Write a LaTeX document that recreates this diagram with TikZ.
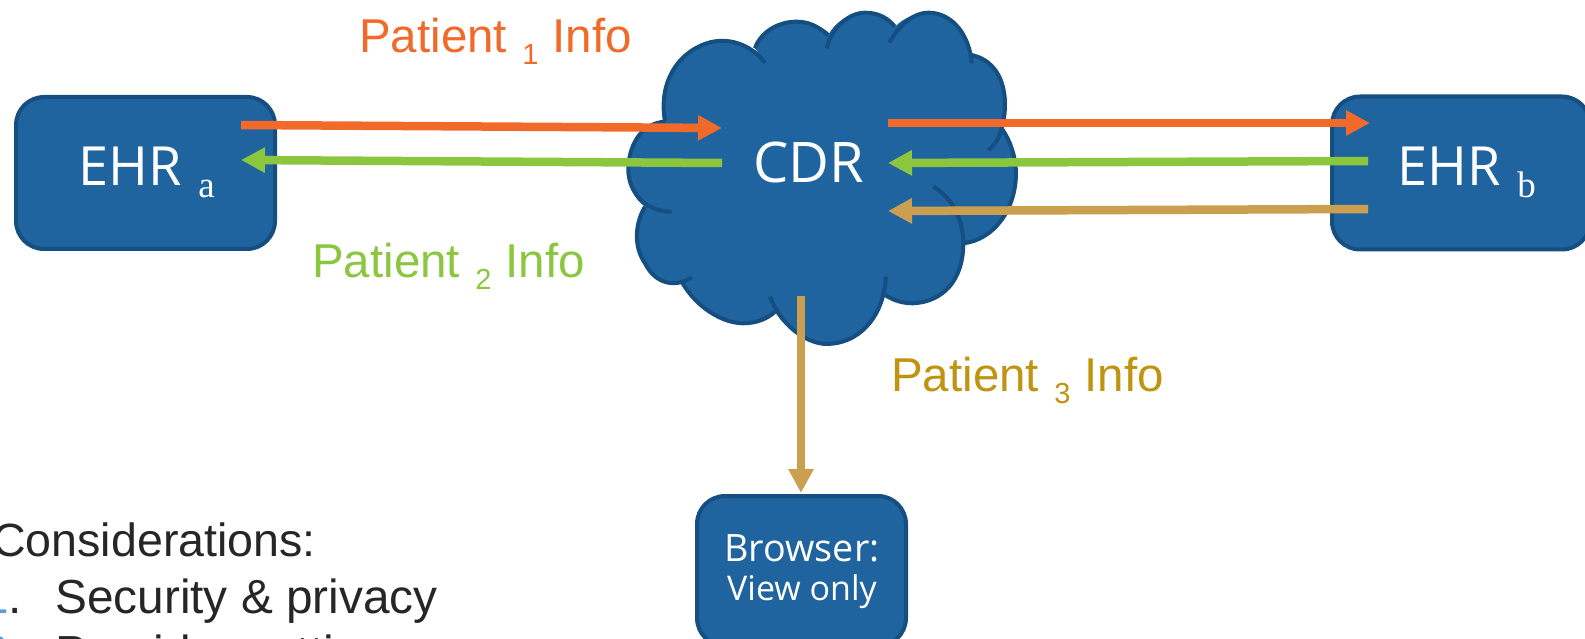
\documentclass[tikz,border=0pt]{standalone}
\usepackage{fontspec}
\setmainfont{Liberation Sans}
\newfontfamily\boxfont{Open Sans}
\newfontfamily\subfont{Liberation Serif}
\usetikzlibrary{arrows.meta}
\definecolor{boxblue}{HTML}{1F639F}
\definecolor{edgeblue}{HTML}{154E80}
\definecolor{ptorange}{HTML}{F26A2A}
\definecolor{ptgreen}{HTML}{8CC63F}
\definecolor{pttan}{HTML}{CB9F50}
\definecolor{lbtan}{HTML}{BF9410}
\definecolor{inktext}{HTML}{262626}
\definecolor{numblue}{HTML}{5B9BD5}
\tikzset{
  x=1pt,y=-1pt,
  ehrbox/.style={draw=edgeblue,line width=4pt,fill=boxblue,rounded corners=28pt,inner sep=0pt},
  flow/.style={line width=8.5pt,-{Triangle[length=24pt,width=24pt]}},
  boxtext/.style={inner sep=0pt,text=white},
  plabel/.style={inner sep=0pt,anchor=base west,font=\fontsize{47.5}{47.5}\selectfont},
  bodytext/.style={inner sep=0pt,anchor=base west,text=inktext,font=\fontsize{47.8}{47.8}\selectfont},
}
\newcommand{\subtag}[1]{\hspace{3pt}{\subfont\fontsize{37}{37}\selectfont\raisebox{-12pt}{#1}}}
\newcommand{\numtag}[1]{\hspace{2pt}{\fontsize{29}{29}\selectfont\raisebox{-12pt}{#1}}\hspace{1pt}}
\begin{document}
\begin{tikzpicture}
\useasboundingbox (0,0) rectangle (1585,639);
% cloud
\begin{scope}[x=0.3333pt,y=-0.3333pt,xshift=600pt]
\path[fill=boxblue] (495,185) .. controls (450,130) and (380,110) .. (320,130) .. controls (230,160) and (175,250) .. (195,365)
 .. controls (120,370) and (85,440) .. (85,510) .. controls (85,560) and (105,600) .. (135,620)
 .. controls (105,670) and (100,740) .. (135,790) .. controls (170,845) and (215,860) .. (245,845)
 .. controls (290,925) and (370,970) .. (430,970) .. controls (470,970) and (505,955) .. (525,935)
 .. controls (565,1000) and (630,1032) .. (680,1032) .. controls (770,1032) and (835,970) .. (855,885)
 .. controls (885,905) and (915,910) .. (940,910) .. controls (1020,905) and (1090,840) .. (1090,730)
 .. controls (1180,720) and (1248,630) .. (1248,520) .. controls (1248,470) and (1230,420) .. (1205,385)
 .. controls (1225,320) and (1225,190) .. (1115,165)
 .. controls (1095,90) and (1040,38) .. (985,38) .. controls (945,38) and (910,55) .. (885,80)
 .. controls (860,50) and (830,38) .. (795,38) .. controls (750,38) and (705,65) .. (685,105)
 .. controls (650,75) and (620,65) .. (590,65) .. controls (530,65) and (480,100) .. (465,145) -- cycle;
\begin{scope}[draw=edgeblue,line width=4pt]
\draw (495,188) .. controls (450,130) and (380,110) .. (320,130) .. controls (230,160) and (175,250) .. (195,365);
\draw (195,365) .. controls (120,370) and (85,440) .. (85,510) .. controls (85,570) and (130,635) .. (215,635);
\draw (135,620) .. controls (105,670) and (100,740) .. (135,790) .. controls (170,860) and (235,860) .. (275,832);
\draw (245,845) .. controls (290,925) and (370,970) .. (430,970) .. controls (470,970) and (505,955) .. (525,935);
\draw (510,890) .. controls (550,990) and (630,1032) .. (680,1032) .. controls (770,1032) and (850,960) .. (858,830);
\draw (855,885) .. controls (885,905) and (915,910) .. (940,910) .. controls (1030,905) and (1090,840) .. (1090,730) .. controls (1090,650) and (1050,590) .. (1000,560);
\draw (1090,730) .. controls (1180,720) and (1248,630) .. (1248,520) .. controls (1248,470) and (1230,420) .. (1205,385);
\draw (1205,385) .. controls (1200,410) and (1185,435) .. (1165,450);
\draw (1205,385) .. controls (1225,320) and (1225,190) .. (1115,165);
\draw (868,128) .. controls (900,70) and (945,38) .. (985,38) .. controls (1060,38) and (1110,110) .. (1115,190);
\draw (680,145) .. controls (695,80) and (750,38) .. (795,38) .. controls (830,38) and (860,50) .. (885,80);
\draw (465,145) .. controls (480,100) and (530,65) .. (590,65) .. controls (620,65) and (650,75) .. (685,105);
\end{scope}
\end{scope}
% nodes
\node[ehrbox,minimum width=259pt,minimum height=152pt] (ehra) at (145.5,173) {};
\node[ehrbox,minimum width=258pt,minimum height=153pt] (ehrb) at (1461,173) {};
\node[ehrbox,minimum width=209pt,minimum height=150pt] (browser) at (801.5,571) {};
\node[boxtext,anchor=base west,font=\boxfont\fontsize{54}{54}\selectfont] (ehratxt) at (78,186) {EHR \subtag{a}};
\node[boxtext,anchor=base west,font=\boxfont\fontsize{54}{54}\selectfont] (ehrbtxt) at (1397,186) {EHR \subtag{b}};
\node[boxtext,anchor=base,font=\boxfont\fontsize{56}{56}\selectfont] (cdr) at (809,183) {CDR};
\node[boxtext,anchor=base,font=\boxfont\fontsize{37.7}{37.7}\selectfont] (br1) at (802,561) {Browser:};
\node[boxtext,anchor=base,font=\boxfont\fontsize{34}{34}\selectfont] (br2) at (802,600) {View only};
% labels
\node[plabel,text=ptorange] (p1) at (359,53) {Patient \numtag{1} Info};
\node[plabel,text=ptgreen] (p2) at (312,277) {Patient \numtag{2} Info};
\node[plabel,text=lbtan] (p3) at (891,391) {Patient \numtag{3} Info};
\node[bodytext,font=\fontsize{46.6}{46.6}\selectfont] (cons) at (-8,556) {Considerations:};
\node[bodytext] (item1) at (-18,613) {{\color{numblue}1}.};
\node[bodytext] (item1b) at (55,613) {Security \& privacy};
\node[bodytext] (item2) at (-18,669) {{\color{numblue}2}.};
\node[bodytext] (item2b) at (55,669) {Provider settings};
% connectors
\coordinate (a1) at (241,125); \coordinate (c1) at (722,128);
\coordinate (c2) at (722,163); \coordinate (a2) at (241,160);
\coordinate (c3) at (888,123); \coordinate (b3) at (1370,123);
\coordinate (b4) at (1368,161); \coordinate (c4) at (888,163);
\coordinate (b5) at (1368,209); \coordinate (c5) at (888,211);
\coordinate (c6) at (801,296); \coordinate (br) at (801,493);
\draw[flow,ptorange] (a1) -- (c1);
\draw[flow,ptgreen] (c2) -- (a2);
\draw[flow,ptorange] (c3) -- (b3);
\draw[flow,ptgreen] (b4) -- (c4);
\draw[flow,pttan] (b5) -- (c5);
\draw[flow,pttan] (c6) -- (br);
\end{tikzpicture}
\end{document}
